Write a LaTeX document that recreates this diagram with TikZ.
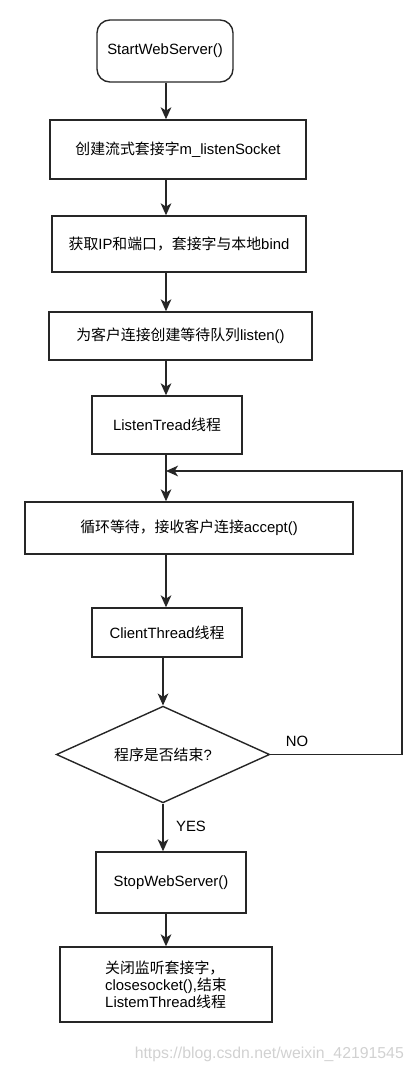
\documentclass[tikz,border=0pt]{standalone}
\usepackage{fontspec}
\setmainfont{Liberation Sans}
\newfontfamily\cjk{Noto Sans CJK SC}
\newcommand{\zh}[1]{{\cjk #1}}
\usetikzlibrary{shapes.geometric,arrows.meta}

\begin{document}
\begin{tikzpicture}[x=0.03cm,y=-0.03cm,
  every node/.style={font=\fontsize{12.7}{14.5}\selectfont},
  box/.style={draw=black!85, line width=1.2pt, rectangle, inner sep=0pt},
  arrow/.style={draw=black!85, line width=1.2pt,
    -{Stealth[length=3.6mm,width=3.2mm,inset=1mm]}}]
  \useasboundingbox (0,0) rectangle (417,1073);

  \node[box, rounded corners=11pt, minimum width=4.08cm, minimum height=1.86cm]
    (start) at (165,51) {StartWebServer()};
  \node[box, minimum width=7.68cm, minimum height=1.77cm]
    (create) at (178,149.5) {\zh{创建流式套接字}m\_listenSocket};
  \node[box, minimum width=7.62cm, minimum height=1.68cm]
    (bind) at (179,244) {\zh{获取}IP\zh{和端口，套接字与本地}bind};
  \node[box, minimum width=7.89cm, minimum height=1.44cm]
    (queue) at (180.5,336) {\zh{为客户连接创建等待队列}listen()};
  \node[box, minimum width=4.5cm, minimum height=1.74cm]
    (listen) at (167,425) {ListenTread\zh{线程}};
  \node[box, minimum width=9.84cm, minimum height=1.56cm]
    (accept) at (189,528) {\zh{循环等待，接收客户连接}accept()};
  \node[box, minimum width=4.5cm, minimum height=1.47cm]
    (client) at (167,632.5) {ClientThread\zh{线程}};
  \node[box, diamond, aspect=2.2, minimum width=6.4cm, minimum height=2.9cm]
    (decision) at (163,754.5) {\zh{程序是否结束}?};
  \node[box, minimum width=4.5cm, minimum height=1.83cm]
    (stop) at (171,882.5) {StopWebServer()};
  \node[box, minimum width=6.36cm, minimum height=2.25cm, align=left]
    (close) at (166,984.5) {\zh{关闭监听套接字，}\\closesocket(),\zh{结束}\\ListemThread\zh{线程}};

  % branch labels
  \node (no) at (297,741) {NO};
  \node (yes) at (191,826) {YES};

  % main column
  \coordinate (axis) at (166,0);
  \draw[arrow] (start.south -| axis) -- (create.north -| axis);
  \draw[arrow] (create.south -| axis) -- (bind.north -| axis);
  \draw[arrow] (bind.south -| axis) -- (queue.north -| axis);
  \draw[arrow] (queue.south -| axis) -- (listen.north -| axis);
  \draw[arrow] (listen.south -| axis) -- (accept.north -| axis);
  \draw[arrow] (accept.south -| axis) -- (client.north -| axis);
  \draw[arrow] (client.south -| decision) -- (decision.north);
  \draw[arrow] (decision.south) -- (stop.north -| decision);
  \draw[arrow] (stop.south -| axis) -- (close.north -| axis);

  % loop back when not finished
  \coordinate (loopin) at (166,471);
  \coordinate (loopcorner) at (402,471);
  \draw[arrow] (decision.east) -| (loopcorner) -- (loopin);

  \node[text=black!18, font=\fontsize{13.5}{16}\selectfont, anchor=east]
    (mark) at (408,1054) {https://blog.csdn.net/weixin\_42191545};
\end{tikzpicture}
\end{document}
